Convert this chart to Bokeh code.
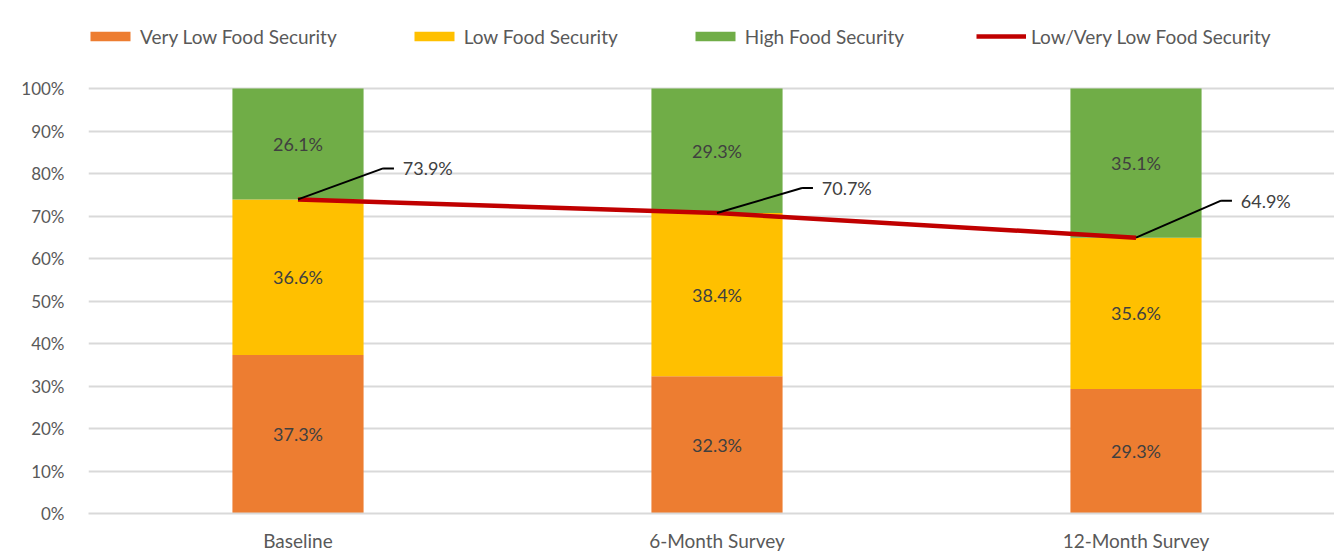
from bokeh.plotting import figure
from bokeh.models import (ColumnDataSource, Range1d, FixedTicker, Legend, LegendItem)
from bokeh.core.properties import value
from bokeh.embed import file_html
from bokeh.resources import INLINE

# ---- data ----
categories = ["Baseline", "6-Month Survey", "12-Month Survey"]
very_low = [37.3, 32.3, 29.3]
low = [36.6, 38.4, 35.6]
high = [26.1, 29.3, 35.1]
low_very_low = [73.9, 70.7, 64.9]

# ---- styling / layout ----
FONT = "Lato"
colors = ["#ED7D31", "#FFC000", "#70AD47"]
line_color = "#C00000"
label_dy = [7.3, 5.9, 8.7]   # callout label vertical offsets (in %)

xs = list(range(len(categories)))
src = ColumnDataSource(dict(x=xs, very_low=very_low, low=low, high=high))

# frame spans y=10..513 px; 100% sits at y=88 (4.25 px per %), leaving headroom for the legend
p = figure(width=1334, height=557, output_backend="svg", toolbar_location=None,
           x_range=Range1d(-0.5, -0.5 + 1246 / 419), y_range=Range1d(0, 100 + 78 / 4.25),
           min_border_left=88, min_border_right=0, min_border_top=10, min_border_bottom=44)
p.outline_line_color = None
p.background_fill_color = "white"
p.border_fill_color = "white"

r = p.vbar_stack(["very_low", "low", "high"], x="x", width=0.313, color=colors,
                 line_color=None, source=src)
ln = p.line(xs, low_very_low, line_color=line_color, line_width=4.5)

# segment labels
seg_x, seg_y, seg_t = [], [], []
for i in xs:
    base = 0
    for v in (very_low[i], low[i], high[i]):
        seg_x.append(i)
        seg_y.append(base + v / 2)
        seg_t.append(f"{v:.1f}%")
        base += v
p.text(seg_x, seg_y, text=seg_t, text_align="center", text_baseline="middle",
       text_font=value(FONT), text_font_size="18px", text_color="#404040")

# callouts for line
x0s, y0s, x1s, y1s = [], [], [], []
lx, ly, lt = [], [], []
for i in xs:
    yv = low_very_low[i]
    yl = yv + label_dy[i]
    x0s += [i, i + 0.203]
    y0s += [yv, yl]
    x1s += [i + 0.203, i + 0.229]
    y1s += [yl, yl]
    lx.append(i + 0.25)
    ly.append(yl)
    lt.append(f"{yv:.1f}%")
p.segment(x0s, y0s, x1s, y1s, line_color="black", line_width=2)
p.text(lx, ly, text=lt, text_align="left", text_baseline="middle",
       text_font=value(FONT), text_font_size="18px", text_color="#404040")

# axes
p.xaxis.ticker = FixedTicker(ticks=xs)
p.xaxis.major_label_overrides = {i: c for i, c in zip(xs, categories)}
p.yaxis.ticker = FixedTicker(ticks=list(range(0, 101, 10)))
p.yaxis.major_label_overrides = {v: f"{v}%" for v in range(0, 101, 10)}
for ax in (p.xaxis, p.yaxis):
    ax.major_tick_line_color = None
    ax.minor_tick_line_color = None
    ax.major_label_text_font = FONT
    ax.major_label_text_color = "#595959"
p.yaxis.major_label_text_font_size = "17px"
p.xaxis.major_label_text_font_size = "19px"
p.yaxis.axis_line_color = None
p.xaxis.axis_line_color = "#D9D9D9"
p.xaxis.axis_line_width = 2
p.yaxis.major_label_standoff = 18
p.xaxis.major_label_standoff = 9
p.xgrid.grid_line_color = None
p.ygrid.grid_line_color = "#D9D9D9"
p.ygrid.grid_line_width = 2

# legend
items = [LegendItem(label="Very Low Food Security", renderers=[r[0]]),
         LegendItem(label="Low Food Security", renderers=[r[1]]),
         LegendItem(label="High Food Security", renderers=[r[2]]),
         LegendItem(label="Low/Very Low Food Security", renderers=[ln])]
leg = Legend(items=items, orientation="horizontal", location=(-3, 465),
             spacing=72, glyph_width=50, glyph_height=12, label_standoff=5,
             label_text_font=FONT, label_text_font_size="19px", label_text_color="#595959",
             padding=0, margin=0, border_line_color=None, background_fill_alpha=0,
             label_height=24)
p.add_layout(leg, "center")

open("out.html", "w").write(file_html(p, INLINE))
